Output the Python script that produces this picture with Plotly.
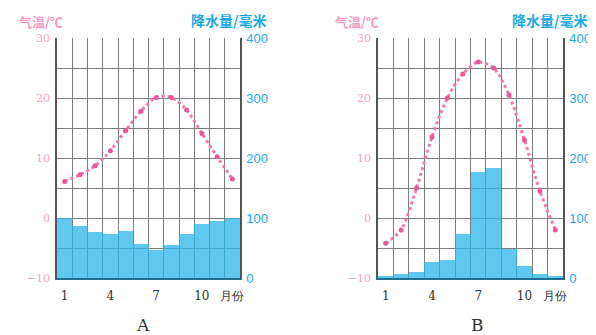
import plotly.graph_objects as go

months = list(range(1, 13))
month_ticks = [1, 4, 7, 10, 12]
month_text = ["1", "4", "7", "10", "月份"]

temp_A = [6.1, 7.2, 8.7, 11.2, 14.6, 17.8, 20.1, 20.1, 18.0, 14.1, 10.2, 6.5]
prec_A = [100, 86, 76, 73, 78, 56, 47, 55, 74, 90, 95, 100]

temp_B = [-4.2, -2.0, 5.0, 13.5, 20.0, 24.0, 26.0, 25.0, 20.5, 13.0, 4.5, -2.0]
prec_B = [3, 7, 10, 27, 30, 73, 177, 183, 49, 20, 7, 3]

temp_ticks = [-10, 0, 10, 20, 30]
temp_text = ["−10", "0", "10", "20", "30"]
prec_ticks = [0, 100, 200, 300, 400]

OFF = 8  # page body margin
W, H = 596 - OFF, 335 - OFF


def fx(px):
    return (px - OFF) / W


def fy(py):
    return 1 - (py - OFF) / H


PINK = "#f07ab0"
PINK_T = "#f3a3c8"
BLUE_T = "#1ea9e6"
BAR = "rgba(42,182,235,0.75)"
GRID = "#7d7d7d"

fig = go.Figure()

panels = [
    (temp_A, prec_A, [fx(57), fx(240)], "A"),
    (temp_B, prec_B, [fx(378), fx(563)], "B"),
]
ydom = [fy(278), fy(38)]

for i, (t, p, dom, lab) in enumerate(panels):
    xa = "x" if i == 0 else "x2"
    yp = "y" if i == 0 else "y3"
    yt = "y2" if i == 0 else "y4"
    fig.add_trace(go.Bar(x=months, y=p, xaxis=xa, yaxis=yp, marker=dict(color=BAR, line=dict(width=0)),
                         showlegend=False))
    fig.add_trace(go.Scatter(x=months, y=t, xaxis=xa, yaxis=yt, mode="lines+markers",
                             line=dict(color=PINK, width=3, dash="dot", shape="spline", smoothing=0.8),
                             marker=dict(color="#e9579b", size=5), showlegend=False))

    xkey = "xaxis" if i == 0 else "xaxis2"
    ypk = "yaxis" if i == 0 else "yaxis3"
    ytk = "yaxis2" if i == 0 else "yaxis4"
    fig.layout[xkey] = dict(domain=dom, anchor=yp, range=[0.5, 12.5], tickmode="array", automargin=False,
                            tickvals=month_ticks, ticktext=month_text, ticks="", showgrid=False,
                            zeroline=False, showline=True, linecolor="#1f6f93", linewidth=2,
                            tickfont=dict(family="DejaVu Serif", size=12, color="#333"),
                            ticklabelstandoff=6,
                            minor=dict(tickmode="linear", tick0=0.5, dtick=1, showgrid=True,
                                       gridcolor=GRID, gridwidth=1, ticks=""))
    fig.layout[ypk] = dict(domain=ydom, anchor=xa, side="right", range=[0, 400], tickmode="array",
                           automargin=False,
                           tickvals=prec_ticks, showgrid=True, gridcolor=GRID, gridwidth=1,
                           zeroline=False, showline=True, mirror=True, linecolor="#555", linewidth=1.5,
                           tickfont=dict(family="Liberation Sans Narrow, Arial", size=13, color=BLUE_T),
                           ticklabelstandoff=2,
                           minor=dict(tickmode="linear", tick0=0, dtick=50, showgrid=True,
                                      gridcolor=GRID, gridwidth=1, ticks=""))
    fig.layout[ytk] = dict(overlaying=yp, anchor=xa, side="left", range=[-10, 30], tickmode="array",
                           automargin=False,
                           tickvals=temp_ticks, ticktext=temp_text, showgrid=False, zeroline=False,
                           showline=False,
                           tickfont=dict(family="DejaVu Serif", size=11, color=PINK_T),
                           ticklabelstandoff=6)

    tx = 41 if i == 0 else 357
    px = 229 if i == 0 else 549
    lx = 143 if i == 0 else 477
    fig.add_annotation(text="<b>气温/℃</b>", xref="paper", yref="paper", x=fx(tx), y=fy(21),
                       xanchor="center", yanchor="middle",
                       showarrow=False, font=dict(family="Noto Sans CJK SC", size=13, color="#f39ac4"))
    fig.add_annotation(text="<b>降水量/毫米</b>", xref="paper", yref="paper", x=fx(px), y=fy(20),
                       xanchor="center", yanchor="middle",
                       showarrow=False, font=dict(family="Noto Sans CJK SC", size=14, color=BLUE_T))
    fig.add_annotation(text=lab, xref="paper", yref="paper", x=fx(lx), y=fy(325),
                       xanchor="center", yanchor="middle",
                       showarrow=False, font=dict(family="DejaVu Serif", size=17, color="#333"))

fig.update_layout(width=W, height=H, margin=dict(l=0, r=0, t=0, b=0, autoexpand=False),
                  plot_bgcolor="white", paper_bgcolor="white", bargap=0)

fig.write_html("out.html")
